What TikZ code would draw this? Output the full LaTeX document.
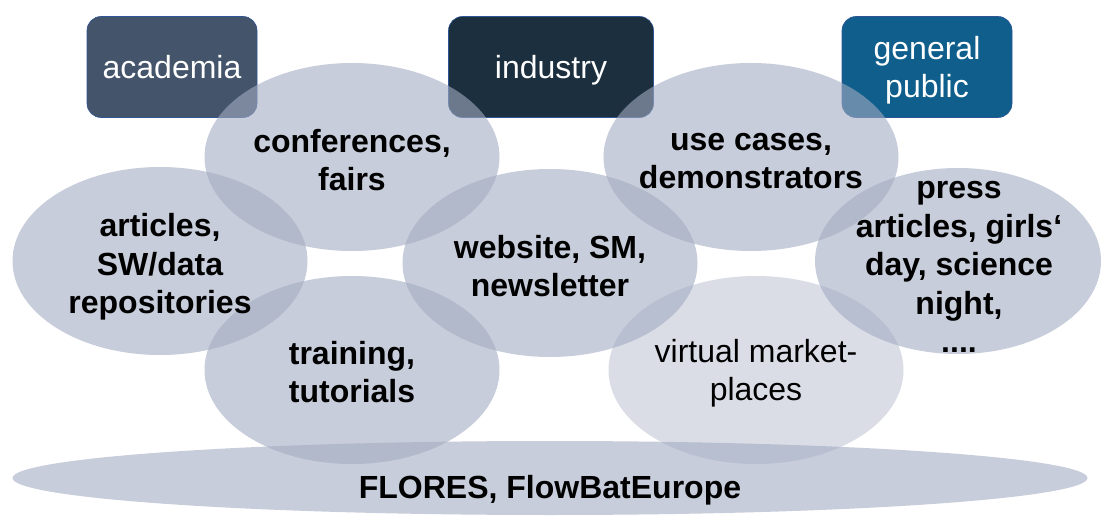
\documentclass[tikz,border=0pt]{standalone}
\usepackage{fontspec}
\setmainfont{Liberation Sans}
\usetikzlibrary{shapes.geometric,positioning}

\definecolor{acadblue}{HTML}{44546A}
\definecolor{indblue}{HTML}{1B2F3E}
\definecolor{pubblue}{HTML}{0F5E8C}
\definecolor{boxline}{HTML}{2F5597}
\definecolor{bubble}{HTML}{A2ABC1}

\tikzset{
  group/.style={rectangle, rounded corners=14pt, draw=boxline, line width=0.6pt,
    minimum width=170pt, minimum height=101pt, inner sep=0pt, text=white,
    text depth=0pt, align=center, font=\fontsize{32}{38}\selectfont},
  channel/.style={ellipse, fill=bubble, fill opacity=0.6,
    minimum width=295pt, minimum height=188pt, inner sep=0pt},
  tag/.style={align=center, font=\fontsize{32}{38.5}\selectfont\bfseries},
}

\begin{document}
\begin{tikzpicture}[x=1pt, y=-1pt]
    \useasboundingbox (0,0) rectangle (1102,518);

    % target groups
    \node[group, fill=acadblue] (academia) at (172,67) {academia};
    \node[group, fill=indblue, minimum width=205pt] (industry) at (551,67) {industry};
    \node[group, fill=pubblue] (public) at (927,67) {general\\public};

    % channels
    \node[channel] (conferences) at (352,157) {};
    \node[channel] (usecases) at (751,157) {};
    \node[channel] (articles) at (160,261) {};
    \node[channel] (website) at (550,263) {};
    \node[channel, minimum width=286pt, minimum height=186pt] (press) at (958,261) {};
    \node[channel] (training) at (352,370) {};
    \node[channel, fill opacity=0.4] (market) at (756,370) {};

    % projects underneath
    \node[channel, minimum width=1075pt, minimum height=74pt] (projects) at (550,478) {};

    % channel texts
    \node[tag] (conferences-txt) at (352,160) {conferences,\\fairs};
    \node[tag] (usecases-txt) at (751,161) {use cases,\\demonstrators};
    \node[tag] (articles-txt) at (160,267) {articles,\\SW/data\\repositories};
    \node[tag] (website-txt) at (550,266) {website, SM,\\newsletter};
    \node[tag] (press-txt) at (959,267) {press\\articles, girls‘\\day, science\\night,\\....};
    \node[tag] (training-txt) at (352,372) {training,\\tutorials};
    \node[tag, font=\fontsize{32}{38.5}\selectfont] (market-txt) at (756,373) {virtual market-\\places};
    \node[tag] (projects-txt) at (550,490) {FLORES, FlowBatEurope};
\end{tikzpicture}
\end{document}
